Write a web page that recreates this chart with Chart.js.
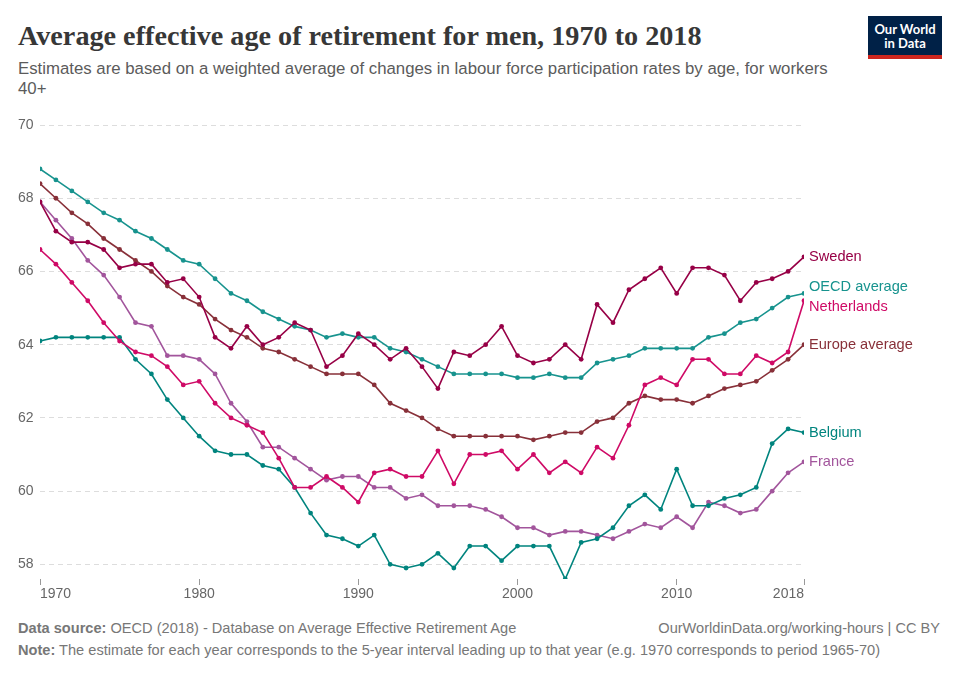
<!DOCTYPE html>
<html>
<head>
<meta charset="utf-8">
<script src="https://cdn.jsdelivr.net/npm/chart.js@4.4.1/dist/chart.umd.min.js"></script>
<style>
  body { margin: 0; background: #fff; width: 960px; height: 678px; overflow: hidden; position: relative; font-family: "Liberation Sans", Arial, sans-serif; }
  #title { position: absolute; left: 18px; top: 21px; font: bold 28.2px/30px "Liberation Serif", serif; color: #373737; white-space: nowrap; }
  #subtitle { position: absolute; left: 18px; top: 59px; font-size: 16.8px; line-height: 20px; color: #5b5b5b; white-space: nowrap; }
  #logo { position: absolute; left: 868px; top: 16px; width: 74px; height: 33px; background: #002147; border-bottom: 4px solid #ce261e; color: #fff; font-family: Lato, sans-serif; font-weight: bold; font-size: 13px; line-height: 14px; text-align: center; padding-top: 6px; }
  #chart { position: absolute; left: 0; top: 110px; }
  .foot { position: absolute; font-size: 14.6px; line-height: 18px; color: #777; white-space: nowrap; }
  .foot b { color: #777; }
</style>
</head>
<body>
<div id="title">Average effective age of retirement for men, 1970 to 2018</div>
<div id="subtitle">Estimates are based on a weighted average of changes in labour force participation rates by age, for workers<br>40+</div>
<div id="logo">Our World<br>in Data</div>
<canvas id="chart" width="960" height="500"></canvas>
<div class="foot" style="left:18px; top:619px;"><b>Data source:</b> OECD (2018) - Database on Average Effective Retirement Age</div>
<div class="foot" style="right:20px; top:619px;">OurWorldinData.org/working-hours | CC BY</div>
<div class="foot" style="left:18px; top:641px;"><b>Note:</b> The estimate for each year corresponds to the 5-year interval leading up to that year (e.g. 1970 corresponds to period 1965-70)</div>
<script>
const years = [1970, 1971, 1972, 1973, 1974, 1975, 1976, 1977, 1978, 1979,
               1980, 1981, 1982, 1983, 1984, 1985, 1986, 1987, 1988, 1989,
               1990, 1991, 1992, 1993, 1994, 1995, 1996, 1997, 1998, 1999,
               2000, 2001, 2002, 2003, 2004, 2005, 2006, 2007, 2008, 2009,
               2010, 2011, 2012, 2013, 2014, 2015, 2016, 2017, 2018];

const sweden = [67.9, 67.1, 66.8, 66.8, 66.6, 66.1, 66.2, 66.2, 65.7, 65.8,
                65.3, 64.2, 63.9, 64.5, 64.0, 64.2, 64.6, 64.4, 63.4, 63.7,
                64.3, 64.0, 63.6, 63.9, 63.4, 62.8, 63.8, 63.7, 64.0, 64.5,
                63.7, 63.5, 63.6, 64.0, 63.6, 65.1, 64.6, 65.5, 65.8, 66.1,
                65.4, 66.1, 66.1, 65.9, 65.2, 65.7, 65.8, 66.0, 66.4];

const oecd = [68.8, 68.5, 68.2, 67.9, 67.6, 67.4, 67.1, 66.9, 66.6, 66.3,
              66.2, 65.8, 65.4, 65.2, 64.9, 64.7, 64.5, 64.4, 64.2, 64.3,
              64.2, 64.2, 63.9, 63.8, 63.6, 63.4, 63.2, 63.2, 63.2, 63.2,
              63.1, 63.1, 63.2, 63.1, 63.1, 63.5, 63.6, 63.7, 63.9, 63.9,
              63.9, 63.9, 64.2, 64.3, 64.6, 64.7, 65.0, 65.3, 65.4];

const netherlands = [66.6, 66.2, 65.7, 65.2, 64.6, 64.1, 63.8, 63.7, 63.4, 62.9,
                     63.0, 62.4, 62.0, 61.8, 61.6, 60.9, 60.1, 60.1, 60.4, 60.1,
                     59.7, 60.5, 60.6, 60.4, 60.4, 61.1, 60.2, 61.0, 61.0, 61.1,
                     60.6, 61.0, 60.5, 60.8, 60.5, 61.2, 60.9, 61.8, 62.9, 63.1,
                     62.9, 63.6, 63.6, 63.2, 63.2, 63.7, 63.5, 63.8, 65.2];

const europe = [68.4, 68.0, 67.6, 67.3, 66.9, 66.6, 66.3, 66.0, 65.6, 65.3,
                65.1, 64.7, 64.4, 64.2, 63.9, 63.8, 63.6, 63.4, 63.2, 63.2,
                63.2, 62.9, 62.4, 62.2, 62.0, 61.7, 61.5, 61.5, 61.5, 61.5,
                61.5, 61.4, 61.5, 61.6, 61.6, 61.9, 62.0, 62.4, 62.6, 62.5,
                62.5, 62.4, 62.6, 62.8, 62.9, 63.0, 63.3, 63.6, 64.0];

const belgium = [64.1, 64.2, 64.2, 64.2, 64.2, 64.2, 63.6, 63.2, 62.5, 62.0,
                 61.5, 61.1, 61.0, 61.0, 60.7, 60.6, 60.1, 59.4, 58.8, 58.7,
                 58.5, 58.8, 58.0, 57.9, 58.0, 58.3, 57.9, 58.5, 58.5, 58.1,
                 58.5, 58.5, 58.5, 57.6, 58.6, 58.7, 59.0, 59.6, 59.9, 59.5,
                 60.6, 59.6, 59.6, 59.8, 59.9, 60.1, 61.3, 61.7, 61.6];

const france = [67.9, 67.4, 66.9, 66.3, 65.9, 65.3, 64.6, 64.5, 63.7, 63.7,
                63.6, 63.2, 62.4, 61.9, 61.2, 61.2, 60.9, 60.6, 60.3, 60.4,
                60.4, 60.1, 60.1, 59.8, 59.9, 59.6, 59.6, 59.6, 59.5, 59.3,
                59.0, 59.0, 58.8, 58.9, 58.9, 58.8, 58.7, 58.9, 59.1, 59.0,
                59.3, 59.0, 59.7, 59.6, 59.4, 59.5, 60.0, 60.5, 60.8];

const xTicks = [1970, 1980, 1990, 2000, 2010, 2018];
const yTicks = [58, 60, 62, 64, 66, 68, 70];

const series = [
  { name: 'Sweden', values: sweden, color: '#970046' },
  { name: 'OECD average', values: oecd, color: '#17938e' },
  { name: 'Netherlands', values: netherlands, color: '#cf0a66' },
  { name: 'Europe average', values: europe, color: '#883039' },
  { name: 'Belgium', values: belgium, color: '#00847e' },
  { name: 'France', values: france, color: '#a2559c' }
];

// line labels at the right end, pushed apart when they overlap
const endLabels = {
  id: 'endLabels',
  afterDatasetsDraw(chart) {
    const ctx = chart.ctx;
    const yScale = chart.scales.y;
    const items = chart.data.datasets.map(ds => ({
      text: ds.label,
      color: ds.borderColor,
      y: yScale.getPixelForValue(ds.data[ds.data.length - 1].y)
    }));
    items.sort((a, b) => a.y - b.y);
    const gap = 20;
    for (let k = 0; k < 60; k++) {
      for (let i = 1; i < items.length; i++) {
        const d = items[i].y - items[i - 1].y;
        if (d < gap) {
          const push = (gap - d) / 2;
          items[i - 1].y -= push;
          items[i].y += push;
        }
      }
    }
    ctx.save();
    ctx.font = '14.6px "Liberation Sans"';
    ctx.textBaseline = 'middle';
    ctx.textAlign = 'left';
    items.forEach(it => {
      ctx.fillStyle = it.color;
      ctx.fillText(it.text, chart.chartArea.right + 5, it.y);
    });
    ctx.restore();
  }
};

const ctx = document.getElementById('chart').getContext('2d');
new Chart(ctx, {
  type: 'line',
  data: {
    datasets: series.map(s => ({
      label: s.name,
      data: years.map((yr, i) => ({ x: yr, y: s.values[i] })),
      borderColor: s.color,
      backgroundColor: s.color,
      borderWidth: 1.6,
      pointRadius: 2.4,
      pointBorderWidth: 0,
      pointHoverRadius: 2.4,
      tension: 0
    }))
  },
  options: {
    responsive: false,
    animation: false,
    events: [],
    layout: { padding: { left: 18, right: 156, top: 15, bottom: 0 } },
    plugins: {
      legend: { display: false },
      tooltip: { enabled: false }
    },
    scales: {
      x: {
        type: 'linear',
        min: 1970,
        max: 2018,
        afterBuildTicks: scale => { scale.ticks = xTicks.map(v => ({ value: v })); },
        afterFit: scale => { scale.height = 31; },
        grid: { drawOnChartArea: false, drawTicks: true, tickLength: 6, color: '#999' },
        border: { display: false },
        ticks: {
          align: 'inner',
          autoSkip: false,
          maxRotation: 0,
          padding: 1,
          color: '#666',
          font: { family: 'Liberation Sans', size: 14 },
          callback: v => String(v)
        }
      },
      y: {
        min: 57.6,
        max: 70,
        afterBuildTicks: scale => { scale.ticks = yTicks.map(v => ({ value: v })); },
        afterFit: scale => { scale.width = 22; },
        grid: { color: '#dddddd', drawTicks: false, lineWidth: 1 },
        border: { display: false, dash: [5, 4] },
        ticks: {
          crossAlign: 'far',
          padding: 0,
          color: '#666',
          font: { family: 'Liberation Sans', size: 14 },
          callback: v => String(v)
        }
      }
    }
  },
  plugins: [endLabels]
});
</script>
</body>
</html>
